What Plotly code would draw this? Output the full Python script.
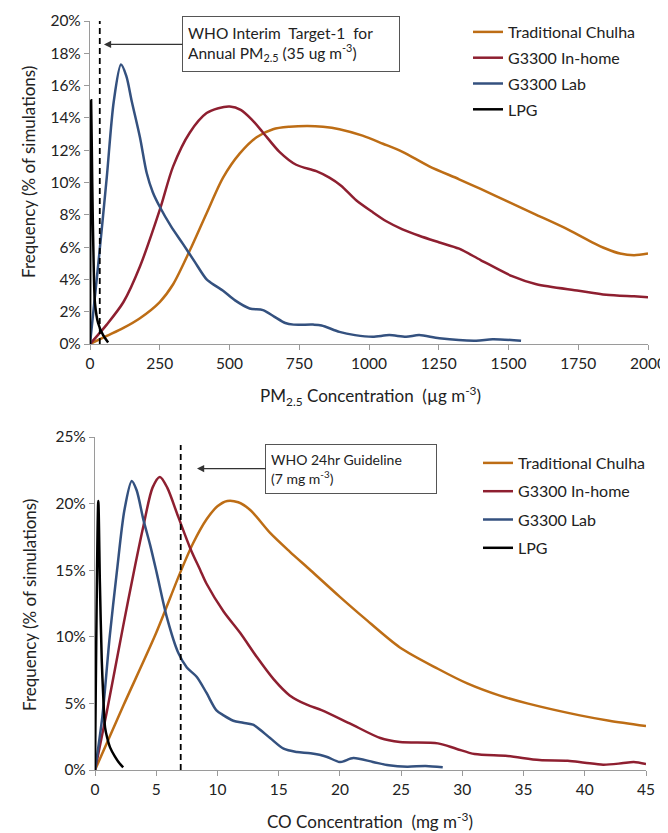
import plotly.graph_objects as go

# ---------------- PM2.5 panel data (x: ug/m3, y: % of simulations) -------------
pm_chulha_x = [0, 60, 120, 179, 250, 298, 358, 418, 477, 537, 597, 656, 715, 780, 835, 894, 977,
               1050, 1120, 1216, 1323, 1400, 1500, 1600, 1700, 1800, 1850, 1900, 1950, 2000]
pm_chulha_y = [0, 0.5, 1.0, 1.6, 2.6, 3.7, 5.8, 8.1, 10.3, 11.8, 12.8, 13.3, 13.45, 13.5, 13.45, 13.3, 12.9,
               12.4, 11.9, 11.0, 10.2, 9.6, 8.8, 8.0, 7.2, 6.3, 5.9, 5.6, 5.5, 5.6]

pm_inhome_x = [0, 60, 120, 179, 250, 298, 358, 418, 460, 501, 540, 580, 620, 679, 739, 811, 858, 900, 954,
               1010, 1062, 1120, 1180, 1250, 1323, 1400, 1513, 1600, 1752, 1850, 1950, 2000]
pm_inhome_y = [0, 1.2, 2.6, 4.8, 8.3, 11.0, 13.1, 14.3, 14.6, 14.7, 14.5, 13.9, 13.1, 11.9, 11.1, 10.7, 10.3,
               9.8, 8.9, 8.2, 7.6, 7.1, 6.7, 6.3, 5.9, 5.2, 4.2, 3.7, 3.3, 3.05, 2.95, 2.9]

pm_lab_x = [0, 30, 60, 85, 111, 130, 150, 179, 203, 225, 250, 290, 333, 375, 418, 450, 477, 520, 572,
            620, 660, 700, 730, 800, 830, 894, 950, 1013, 1073, 1133, 1180, 1252, 1384, 1443, 1545]
pm_lab_y = [0, 5.0, 10.3, 15.0, 17.3, 16.6, 15.0, 12.8, 10.6, 9.4, 8.5, 7.3, 6.2, 5.1, 4.0, 3.6, 3.3, 2.7, 2.2,
            2.1, 1.7, 1.3, 1.2, 1.2, 1.15, 0.75, 0.55, 0.45, 0.55, 0.45, 0.55, 0.35, 0.2, 0.3, 0.2]

pm_lpg_x = [0, 4, 8, 13, 18, 29, 47, 65]
pm_lpg_y = [0, 15.1, 10.0, 5.0, 2.5, 1.3, 0.55, 0.1]

pm_guideline = 35
pm_xticks = [0, 250, 500, 750, 1000, 1250, 1500, 1750, 2000]
pm_yticks = [0, 2, 4, 6, 8, 10, 12, 14, 16, 18, 20]

# ---------------- CO panel data (x: mg/m3, y: % of simulations) ----------------
co_chulha_x = [0, 2.3, 5.0, 6.95, 8.0, 9.1, 10.0, 10.8, 11.7, 12.7, 14.3, 15.9, 17.6, 20.0, 22.0, 24.9,
               28.0, 30.4, 33.0, 35.3, 39.6, 42.0, 45.0]
co_chulha_y = [0, 4.8, 10.3, 14.8, 17.0, 18.8, 19.8, 20.2, 20.1, 19.5, 17.8, 16.4, 15.0, 13.0, 11.4, 9.2,
               7.6, 6.5, 5.6, 5.0, 4.1, 3.7, 3.3]

co_inhome_x = [0, 0.95, 2.3, 3.2, 3.95, 4.7, 5.3, 5.9, 6.8, 7.8, 8.6, 9.1, 10.5, 11.85, 13.2, 14.6, 15.9,
               17.3, 18.5, 20.8, 23.3, 24.9, 28.0, 29.5, 31.0, 33.7, 36.3, 38.6, 40.0, 41.5, 43.0, 44.0, 45.0]
co_inhome_y = [0, 4.3, 10.8, 15.0, 18.3, 21.2, 22.0, 21.2, 19.0, 16.6, 15.0, 14.0, 11.9, 10.3, 8.5, 6.8, 5.6,
               4.9, 4.5, 3.5, 2.4, 2.1, 2.0, 1.6, 1.2, 1.05, 0.75, 0.7, 0.55, 0.4, 0.5, 0.6, 0.45]

co_lab_x = [0, 0.6, 1.2, 1.8, 2.4, 3.0, 3.4, 3.95, 4.5, 5.04, 5.86, 6.8, 7.5, 8.3, 9.1, 9.9, 10.5, 11.3, 12.1,
            12.9, 14.3, 15.4, 16.5, 17.6, 18.9, 20.0, 21.1, 22.7, 24.0, 25.5, 27.0, 28.4]
co_lab_y = [0, 4.0, 10.0, 15.0, 19.5, 21.7, 21.0, 18.8, 16.9, 14.8, 11.5, 8.8, 7.7, 7.0, 5.8, 4.5, 4.1, 3.7, 3.55,
            3.4, 2.4, 1.6, 1.35, 1.25, 1.0, 0.6, 0.9, 0.6, 0.35, 0.25, 0.3, 0.2]

co_lpg_x = [0, 0.27, 0.4, 0.55, 0.7, 0.82, 1.0, 1.23, 1.63, 2.0, 2.3]
co_lpg_y = [0, 20.2, 14.0, 8.3, 5.0, 3.2, 2.4, 1.7, 1.0, 0.5, 0.2]

co_guideline = 7
co_xticks = [0, 5, 10, 15, 20, 25, 30, 35, 40, 45]
co_yticks = [0, 5, 10, 15, 20, 25]

series_names = ["Traditional Chulha", "G3300 In-home", "G3300 Lab", "LPG"]
series_colors = ["#BD6D15", "#8E1F30", "#34517F", "#000000"]

FONT = "Lato"
TXT = "#222222"
AXC = "#9a9a9a"

fig = go.Figure()

pm_sets = [(pm_chulha_x, pm_chulha_y), (pm_inhome_x, pm_inhome_y), (pm_lab_x, pm_lab_y), (pm_lpg_x, pm_lpg_y)]
co_sets = [(co_chulha_x, co_chulha_y), (co_inhome_x, co_inhome_y), (co_lab_x, co_lab_y), (co_lpg_x, co_lpg_y)]

for i, (xs, ys) in enumerate(pm_sets):
    fig.add_trace(go.Scatter(x=xs, y=ys, mode="lines", name=series_names[i],
                             line=dict(color=series_colors[i], width=2.5, shape="spline", smoothing=0.8),
                             xaxis="x", yaxis="y", legend="legend", legendgroup="a%d" % i))
for i, (xs, ys) in enumerate(co_sets):
    fig.add_trace(go.Scatter(x=xs, y=ys, mode="lines", name=series_names[i],
                             line=dict(color=series_colors[i], width=2.5, shape="spline", smoothing=0.8),
                             xaxis="x2", yaxis="y2", legend="legend2", legendgroup="b%d" % i))

# guideline dashed lines (data coordinates)
fig.add_trace(go.Scatter(x=[pm_guideline, pm_guideline], y=[0, 20.4], mode="lines", showlegend=False,
                         line=dict(color="black", width=1.8, dash="6px,4px"), xaxis="x", yaxis="y"))
fig.add_trace(go.Scatter(x=[co_guideline, co_guideline], y=[0, 24.4], mode="lines", showlegend=False,
                         line=dict(color="black", width=1.8, dash="6px,4px"), xaxis="x2", yaxis="y2"))

# page has an 8px body margin: figure sized to fit the window, positions given in page pixels
OFF = 8
W, H = 668 - OFF, 833 - OFF
def px_x(p): return (p - OFF) / W
def px_y(p): return 1 - (p - OFF) / H

axis_common = dict(showgrid=False, zeroline=False, showline=True, linecolor=AXC, linewidth=1.2,
                   ticks="outside", tickcolor=AXC, ticklen=5, tickwidth=1.2,
                   tickfont=dict(family=FONT, size=15.5, color=TXT))

fig.update_layout(
    width=W, height=H, margin=dict(l=0, r=0, t=0, b=0, autoexpand=False),
    paper_bgcolor="white", plot_bgcolor="white",
    font=dict(family=FONT, color=TXT),
    xaxis=dict(domain=[px_x(90), px_x(648)], range=[0, 2000], tickmode="array", tickvals=pm_xticks,
               ticktext=[str(v) for v in pm_xticks], anchor="y", **axis_common),
    yaxis=dict(domain=[px_y(344), px_y(21)], range=[0, 20], tickmode="array", tickvals=pm_yticks,
               ticktext=["%d%%" % v for v in pm_yticks], anchor="x", **axis_common),
    xaxis2=dict(domain=[px_x(95), px_x(646)], range=[0, 45], tickmode="array", tickvals=co_xticks,
                ticktext=[str(v) for v in co_xticks], anchor="y2", **axis_common),
    yaxis2=dict(domain=[px_y(770), px_y(437)], range=[0, 25], tickmode="array", tickvals=co_yticks,
                ticktext=["%d%%" % v for v in co_yticks], anchor="x2", **axis_common),
    legend=dict(x=px_x(468), y=px_y(15), xanchor="left", yanchor="top", bgcolor="rgba(0,0,0,0)",
                font=dict(family=FONT, size=16, color=TXT), tracegroupgap=2, itemwidth=30),
    legend2=dict(x=px_x(478), y=px_y(446), xanchor="left", yanchor="top", bgcolor="rgba(0,0,0,0)",
                 font=dict(family=FONT, size=16, color=TXT), tracegroupgap=4.5, itemwidth=30),
    showlegend=True,
)

ann = []
# top guideline box
ann.append(dict(x=50, y=18.55, xref="x", yref="y", ax=187, ay=0, axref="pixel", ayref="pixel",
                text="WHO Interim  Target-1  for<br>Annual PM<sub>2.5</sub> (35 ug m<sup>-3</sup>)",
                showarrow=True, arrowhead=2, arrowsize=1.2, arrowwidth=1.2, arrowcolor="#333",
                align="left", width=206, height=44, bordercolor="#555", borderwidth=1, borderpad=5,
                bgcolor="white", font=dict(family=FONT, size=15.5, color=TXT)))
# bottom guideline box
ann.append(dict(x=8.33, y=22.63, xref="x2", yref="y2", ax=154, ay=0, axref="pixel", ayref="pixel",
                text="WHO 24hr Guideline<br>(7 mg m<sup>-3</sup>)",
                showarrow=True, arrowhead=2, arrowsize=1.2, arrowwidth=1.2, arrowcolor="#333",
                align="left", width=160, height=38, bordercolor="#555", borderwidth=1, borderpad=5,
                bgcolor="white", font=dict(family=FONT, size=14, color=TXT)))
# axis titles
ann.append(dict(x=px_x(370), y=px_y(396), xref="paper", yref="paper", showarrow=False,
                xanchor="center", yanchor="middle",
                text="PM<sub>2.5</sub> Concentration  (µg m<sup>-3</sup>)",
                font=dict(family=FONT, size=17, color=TXT)))
ann.append(dict(x=px_x(370), y=px_y(820), xref="paper", yref="paper", showarrow=False,
                xanchor="center", yanchor="middle",
                text="CO Concentration  (mg m<sup>-3</sup>)",
                font=dict(family=FONT, size=17, color=TXT)))
ann.append(dict(x=px_x(29), y=px_y(172), xref="paper", yref="paper", showarrow=False, textangle=-90,
                xanchor="center", yanchor="middle",
                text="Frequency (% of simulations)", font=dict(family=FONT, size=17, color=TXT)))
ann.append(dict(x=px_x(29), y=px_y(605), xref="paper", yref="paper", showarrow=False, textangle=-90,
                xanchor="center", yanchor="middle",
                text="Frequency (% of simulations)", font=dict(family=FONT, size=17, color=TXT)))
fig.update_layout(annotations=ann)

fig.write_html("out.html")
